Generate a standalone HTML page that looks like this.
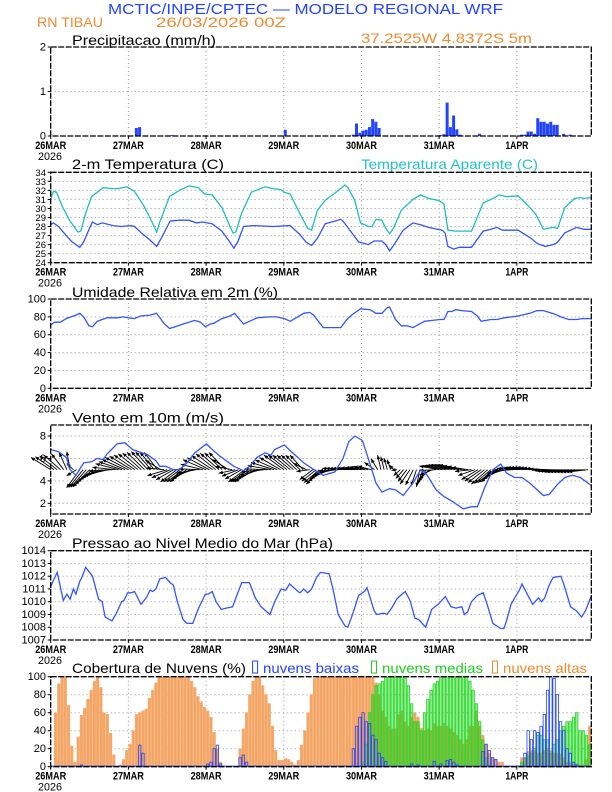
<!DOCTYPE html>
<html><head><meta charset="utf-8"><style>
html,body{margin:0;padding:0;background:#fff;}
svg{display:block;font-family:"Liberation Sans",sans-serif;}
</style></head><body>
<svg id="chart" width="612" height="792" viewBox="0 0 612 792" xmlns="http://www.w3.org/2000/svg">
<text x="108" y="14" font-size="15" fill="#2244ff" textLength="395" lengthAdjust="spacingAndGlyphs">MCTIC/INPE/CPTEC — MODELO REGIONAL WRF</text>
<text x="37" y="27" font-size="14" fill="#f08a30" textLength="66" lengthAdjust="spacingAndGlyphs">RN TIBAU</text>
<text x="156" y="27" font-size="14" fill="#f08a30" textLength="130" lengthAdjust="spacingAndGlyphs">26/03/2026 00Z</text>
<text x="361" y="43" font-size="14" fill="#f08a30" textLength="171" lengthAdjust="spacingAndGlyphs">37.2525W 4.8372S 5m</text>
<g id="layer"></g>
</svg>
<script>
// ---------- data ----------
const dayLabels = ["26MAR","27MAR","28MAR","29MAR","30MAR","31MAR","1APR"];
const precipHours = [26,27,37,72,93,94,95,96,97,98,99,100,101,120,121,122,123,124,125,126,132,145,146,147,148,149,150,151,152,153,154,155,156,158,160];
const precipVals  = [0.18,0.2,0.02,0.14,0.03,0.28,0.07,0.12,0.14,0.2,0.38,0.32,0.18,0.02,0.04,0.75,0.2,0.46,0.15,0.03,0.05,0.03,0.03,0.1,0.1,0.05,0.4,0.32,0.32,0.28,0.32,0.25,0.25,0.05,0.03];
const precipTicks = [0,1,2];

const tHours = [0,0.8,2.4,4.8,6.6,9,10.2,12,12.9,14.4,15.9,19.3,21.7,24.8,25.9,28.3,30.7,32.7,34.3,36.9,39.7,42.7,45.1,47,49.9,52.9,55.1,56.6,57.8,59.6,62.6,68.6,74,77,78.8,80.6,82.4,84.8,87.8,89.6,90.3,92.6,95.1,98.1,99.9,102.3,103.5,104.7,105.9,108.9,111.9,114.3,116.7,120.9,121.8,122.7,124.5,126.3,130,133.6,136,137.8,139.6,144.4,148,150.4,152.8,155.2,156.4,158.8,162.4,164.8,166.9];
const tVals  = [28.2,28.4,28.0,27.0,26.3,25.7,26.3,27.8,28.5,28.2,28.4,28.1,28.0,28.1,28.0,27.2,26.5,25.8,26.8,28.6,28.7,28.7,28.4,28.5,28.3,27.5,26.4,25.6,26.3,28.0,28.1,28.0,28.1,27.1,26.3,25.9,26.7,28.3,28.6,28.8,28.6,27.5,26.3,26.0,26.4,26.4,26.0,25.3,25.9,27.6,28.4,28.2,27.9,27.6,27.3,25.8,25.5,25.7,25.7,27.5,27.7,27.9,27.6,27.6,26.8,26.1,25.8,26.0,26.2,27.3,27.9,27.7,27.7];
const taHours = [0,0.8,1.8,3.6,6,8.4,9.3,10.8,12.6,14.4,16.2,19.3,21,23.5,25.9,28.9,31.3,32.7,33.7,36.7,39.7,42.7,45.7,47.5,49.9,52.9,55.4,56.3,57.2,59,62,66.2,68.6,71,72.2,74,77,79.4,80.6,82.4,84.8,87.8,90.9,91.8,93.9,95.7,98.1,99.3,100.5,102.3,103.5,104.7,105.9,108.3,111.9,114.3,116.7,119.7,121.5,122.7,125.2,130,133.6,137.2,138.4,140.8,144.4,148,149.8,152.2,155.2,156.6,158.8,161.8,163.6,164.8,166.9];
const taVals  = [31.0,31.9,31.8,30.2,28.6,27.4,27.5,29.5,31.3,31.8,32.3,32.2,32.2,32.4,31.9,30.2,28.5,27.4,28.5,31.3,32.0,32.5,32.3,31.6,31.5,30.1,28.0,27.3,27.4,29.5,31.8,32.4,32.2,32.1,31.8,31.6,29.4,27.8,27.6,29.8,30.9,31.7,32.6,32.3,30.9,28.4,28.0,28.0,28.8,28.7,27.8,27.2,27.8,29.8,31.0,31.5,31.1,30.9,30.5,27.6,27.5,27.5,30.6,31.2,31.5,31.3,31.4,30.1,29.4,27.7,27.9,27.8,30.1,31.1,31.2,31.1,31.2];
const tempTicks = [24,25,26,27,28,29,30,31,32,33,34];

const rhHours = [0,1.2,3,4.8,7.8,9,10.2,11.8,12.9,14.4,15.9,17.4,20.5,22.3,24.1,25.9,27.7,30.7,32.7,34.9,36.7,38.5,40.9,44.5,46.3,47.8,49.3,50.5,52.9,55.4,56.8,58.4,59.6,61.4,63.8,67.4,69.8,72.2,74,75.8,78.2,80,81.2,84.2,86.6,89.6,91.5,93.3,95.7,98.7,100.5,102.3,103.9,104.7,106.5,108.3,110.1,111.9,115.5,117.9,120.3,121.5,122.7,123.9,125.2,127,130,131.8,133,136,137.8,140.2,144.4,148,150.2,152.2,154,155.8,157.6,160,162.4,164.2,166.9];
const rhVals  = [71,74,74,78,82,84,80,70,69,75,77,79,79,80,79,78,81,82,84,73,67,69,72,76,74,69,72,73,78,81,84,77,72,75,79,80,80,78,75,79,84,85,82,68,68,68,77,83,89,88,84,84,90,91,77,70,70,68,75,76,77,77,86,86,88,87,86,81,75,77,77,79,81,84,87,87,85,83,80,77,77,78,78];
const rhTicks = [0,20,40,60,80,100];

const wsHours = [0,2.4,4.8,6,7.8,10.2,12.6,14.4,16.2,17.4,20.5,22.9,25.3,30.1,32.5,33.7,35.5,37.9,39.7,42.1,44.5,48.1,49.9,52.3,54.2,56.6,59.6,61.4,63.8,66.2,68,69.2,72.2,74,78.2,81.8,84.2,87.8,90.3,92.1,93.9,96.3,98.1,100.5,102.3,104.7,106.5,108.9,111.9,114.3,116.1,119.1,121.5,123.9,127.5,130,131.8,134.2,136.6,139,140.8,143.3,145.6,148,152.2,154,156.6,158.8,161.2,163.6,166.9];
const wsVals  = [6.8,6.6,6.1,5.0,4.5,5.6,5.7,6.0,5.9,6.4,7.3,7.4,6.8,6.3,5.8,5.3,5.3,5.0,5.0,5.6,6.5,7.3,6.8,6.2,5.8,5.3,4.9,5.3,6.1,6.5,6.3,6.8,7.2,6.7,5.6,4.9,4.5,4.8,6.0,7.5,8.0,7.6,6.0,3.8,3.0,3.3,3.2,2.7,3.8,5.0,4.6,3.2,2.6,2.2,1.5,1.7,1.7,3.5,5.0,5.5,4.7,4.3,4.3,3.8,2.7,2.8,3.7,4.3,4.5,4.3,3.6];
const windTicks = [2,4,6,8];
// wind components every 3 h (m/s)
const windU = [-6,-5,-1,-4,-5,-6,-7,-7,-7,-6,-5,-4,-6,-5,-5,-6,-7,-6,-5,-5,-5,-6,-7,-7,-6,-5,-4,-4,-5,-6,-6,-6,
 -5,-4,-1,-1,-2,-3,-1,-3,-6,-6,-6,-5,-5,-5,-5,-6,-6,-6,-6,-6,-6,-6,-6,-6];
const windV = [3.7,4.4,5.5,-5.5,-5.2,-3,-1.5,1.8,3.7,4.8,5.5,5.2,-1.8,-3.7,-3.7,-1.1,3,4.8,5.2,-1.1,-3.7,-3.7,-0.7,2.2,4.4,4.4,4.4,-3,-4.4,-1.8,0.4,0.4,
 0.7,1.1,4.4,3,-1.8,-4.4,-5.2,-3,1.1,1.5,1.5,0.7,-3,-4.4,-3.7,-1.1,0.4,0.7,0.7,0.4,-0.4,-0.7,-0.7,-0.7];

const pHours = [0,2,3.9,5,6,7,7.8,9,9.6,10.8,12.9,14.8,15.9,16.8,18.9,20.1,21.9,22.6,23.8,24.9,25.9,27.9,29.5,30.7,31.5,32.5,33.7,35.5,36.9,37.9,39.1,40.9,42.1,43.9,45.7,47.8,48.7,49.9,51.1,52.7,54.2,56.2,57.2,59,61.4,63.2,65,67.7,69.2,71.2,72.6,73.8,76.4,77,78.2,79.4,80.6,82.1,83.3,86,87.2,88.8,90.9,91.8,93.5,95.1,96.9,97.7,98.7,99.9,100.7,102.9,103.9,105.3,106.9,108.1,109.5,111,112.5,113.7,115.8,117.7,119.7,121.9,123.7,125.2,127,127.8,128.8,130,131.8,133.6,134.8,136.6,139,140,140.8,142.2,143.8,144.8,145.6,147.4,148.9,150.7,151.6,152.6,154,155.2,157.6,158.6,160.6,162.4,164,165.2,166.9];
const pVals  = [1011.2,1012.3,1010.1,1010.6,1010.2,1011.0,1010.6,1011.6,1011.9,1012.7,1012.0,1010.2,1010.0,1008.8,1008.5,1009.0,1010.0,1010.1,1010.7,1010.7,1010.8,1009.8,1010.3,1010.9,1010.8,1011.0,1011.8,1011.9,1011.5,1011.3,1010.0,1008.6,1008.3,1008.3,1009.5,1010.6,1010.6,1010.8,1010.0,1009.4,1009.5,1009.6,1010.3,1011.5,1011.5,1010.3,1009.6,1009.0,1010.0,1011.0,1010.9,1011.4,1010.8,1010.7,1011.0,1010.7,1011.0,1011.9,1012.3,1012.2,1011.0,1009.0,1008.1,1008.0,1009.2,1010.5,1010.8,1011.1,1010.3,1009.3,1009.0,1009.1,1009.0,1009.5,1010.2,1010.5,1010.8,1010.1,1008.7,1008.6,1008.0,1009.4,1009.8,1010.4,1009.6,1009.5,1009.6,1009.0,1009.2,1010.0,1010.5,1010.7,1009.8,1008.3,1007.9,1007.9,1008.5,1009.8,1010.5,1010.9,1011.4,1010.5,1009.8,1010.3,1010.0,1010.3,1011.3,1011.9,1012.0,1011.3,1009.6,1009.3,1008.8,1009.3,1010.4];
const pTicks = [1007,1008,1009,1010,1011,1012,1013,1014];

// hourly cloud cover (%), hours 0..166
const cloudHigh = [0,60,92,100,100,68,23,5,33,57,65,75,85,95,100,88,60,58,37,13,0,2,8,18,
 25,40,58,60,62,64,76,85,93,100,100,100,100,100,100,100,100,100,100,95,88,78,72,66,
 62,55,38,20,5,0,0,0,0,0,20,42,60,80,95,100,100,90,80,70,45,18,7,7,
 9,8,5,2,7,24,40,60,80,98,100,100,100,100,100,100,100,100,100,100,100,100,100,100,100,100,100,100,
 93,80,62,55,45,42,42,58,62,50,45,55,60,55,43,40,42,40,48,45,
 45,48,45,42,38,35,30,25,30,45,45,62,45,35,25,15,10,8,5,5,0,0,0,0,
 0,10,10,17,18,18,15,15,18,20,18,15,15,14,10,5,5,3,3,2,2,8,45];
const cloudMid = [0,0,0,0,0,0,0,0,0,0,0,0,0,0,0,0,0,0,0,0,0,0,0,0,
 0,0,0,0,0,0,0,0,0,0,0,0,0,0,0,0,0,0,0,0,0,0,0,0,
 0,0,0,0,0,0,0,0,0,0,0,0,0,0,0,0,0,0,0,0,0,0,0,0,
 0,0,0,0,0,0,0,0,0,0,0,0,0,0,0,0,0,0,0,0,0,0,0,0,
 5,25,60,80,90,92,95,100,100,100,100,100,100,100,90,70,50,50,40,60,75,85,92,95,
 100,100,100,100,100,100,100,100,100,95,85,70,50,30,10,2,0,0,0,0,0,0,0,0,
 0,5,10,12,15,20,35,35,30,30,15,25,30,40,45,50,50,55,60,40,40,35,25];
const cloudLow = [0,0,0,0,0,0,0,0,0,2,0,0,0,0,0,0,0,0,0,0,0,0,0,0,
 0,0,0,24,15,0,0,0,0,0,0,0,0,0,0,0,0,0,0,0,0,0,0,0,
 3,5,20,24,3,0,0,0,0,0,10,13,5,0,0,0,0,0,0,0,0,0,0,0,
 0,0,0,0,0,0,0,0,0,0,0,0,0,0,0,0,0,0,0,0,0,20,45,55,
 60,50,48,35,30,15,10,6,0,0,0,0,0,0,0,3,0,2,0,0,0,0,6,0,
 3,0,7,8,5,2,0,0,0,0,0,0,0,17,25,18,10,8,0,0,0,0,0,0,
 0,0,15,40,30,40,38,45,58,85,100,98,80,50,40,20,15,5,2,0,0,0,0];
const cloudTicks = [0,20,40,60,80,100];

// ---------- drawing ----------
const NS = "http://www.w3.org/2000/svg";
const layer = document.getElementById("layer");
const X0 = 50.7, X1 = 591.3, HMAX = 167;
function xs(h){ return X0 + h * (X1 - X0) / HMAX; }
function mk(tag, attrs, parent){
  const e = document.createElementNS(NS, tag);
  for (const k in attrs) e.setAttribute(k, attrs[k]);
  (parent || layer).appendChild(e);
  return e;
}
function panel(name, top, bot, vmin, vmax, ticks, tickFmt, tickSize){
  const g = mk("g", {});
  
  
  const ys = v => bot - (v - vmin) * (bot - top) / (vmax - vmin);
  for (let d = 1; d < 7; d++) {
    const l = mk("line", {x1: xs(d*24), x2: xs(d*24), y1: top, y2: bot, stroke: "#999", "stroke-width": 1, "stroke-dasharray": "1,3"}, g);
    
    
  }
  ticks.forEach(t => {
    const y = ys(t);
    if (t !== vmin && t !== vmax) {
      const l = mk("line", {x1: X0, x2: X1, y1: y, y2: y, stroke: "#999", "stroke-width": 1, "stroke-dasharray": "1,3"}, g);
      
      
    }
    const tl = mk("text", {x: 46, y: y + 3.5, "font-size": tickSize || 11, "text-anchor": "end", fill: "#000"}, g);
    tl.textContent = tickFmt ? tickFmt(t) : t;
    
    
    mk("line", {x1: X0 - 3, x2: X0, y1: y, y2: y, stroke: "#000"}, g);
  });
  dayLabels.forEach((lab, i) => {
    const x = xs(i*24);
    mk("line", {x1: x, x2: x, y1: bot, y2: bot + 3, stroke: "#000"}, g);
    const t = mk("text", {x: x, y: bot + 13, "font-size": 11, "font-weight": "bold", "text-anchor": "middle", textLength: lab.length === 4 ? 23 : 31, lengthAdjust: "spacingAndGlyphs"}, g);
    t.textContent = lab;
    
    
  });
  const yr = mk("text", {x: 50, y: bot + 24, "font-size": 11, "text-anchor": "middle", textLength: 24, lengthAdjust: "spacingAndGlyphs"}, g);
  yr.textContent = "2026";
  
  
  return {g, ys, top, bot};
}
function frame(p){
  const r = mk("rect", {x: X0, y: p.top, width: X1 - X0, height: p.bot - p.top, fill: "none", stroke: "#000", "stroke-width": 1.3, "stroke-dasharray": "6,1.5"}, p.g);
  
  
}
function title(txt, x, y, w, color, name){
  const t = mk("text", {x: x, y: y, "font-size": 14, fill: color, textLength: w, lengthAdjust: "spacingAndGlyphs"});
  t.textContent = txt;
  
  
}
function line(p, hours, vals, color, name){
  const d = hours.map((h, i) => (i ? "L" : "M") + xs(h).toFixed(1) + "," + p.ys(vals[i]).toFixed(1)).join("");
  const e = mk("path", {d: d, fill: "none", stroke: color, "stroke-width": 1.3}, p.g);
  
  
}

// Panel 1: precipitation
title("Precipitacao (mm/h)", 72, 45, 144, "#000", "precip-title");
const p1 = panel("precip-panel", 47, 136, 0, 2, precipTicks);
precipHours.forEach((h, i) => {
  const y = p1.ys(precipVals[i]);
  const b = mk("rect", {x: xs(h), y: y, width: 3, height: p1.bot - y, fill: "#2244ff"}, p1.g);
  
  
});
frame(p1);

// Panel 2: temperature
title("2-m Temperatura (C)", 72, 169, 152, "#000", "temp-title");
title("Temperatura Aparente (C)", 361, 169, 177, "#22c4c4", "apparent-temp-title");
const p2 = panel("temp-panel", 172.3, 262.7, 24, 34, tempTicks, null, 9.5);
line(p2, taHours, taVals, "#22bdbd", "apparent-temp-line");
line(p2, tHours, tVals, "#3355ff", "temp-line");
frame(p2);

// Panel 3: RH
title("Umidade Relativa em 2m (%)", 72, 297, 206, "#000", "rh-title");
const p3 = panel("rh-panel", 299, 388.3, 0, 100, rhTicks);
line(p3, rhHours, rhVals, "#3355ff", "rh-line");
frame(p3);

// Panel 4: wind
title("Vento em 10m (m/s)", 72, 422.7, 152, "#000", "wind-title");
const p4 = panel("wind-panel", 425, 514, 1.05, 8.98, windTicks);
const wy0 = p4.ys(5);
const K = 3.3;
for (let h = 0; h <= 166; h++) {
  const i = Math.min(Math.floor(h / 3), windU.length - 2);
  const f = (h - i * 3) / 3;
  const u = windU[i] + (windU[i+1] - windU[i]) * f;
  const v = windV[i] + (windV[i+1] - windV[i]) * f;
  const x = xs(h), x2 = x + u * K, y2 = wy0 - v * K;
  const len = Math.hypot(x2 - x, y2 - wy0) || 1;
  const ux = (x2 - x) / len, uy = (y2 - wy0) / len;
  const a = mk("g", {}, p4.g);
  
  
  mk("line", {x1: x, y1: wy0, x2: x2, y2: y2, stroke: "#000", "stroke-width": 0.9}, a);
  const hx = x2 - ux * 4, hy = y2 - uy * 4;
  mk("polygon", {points: `${x2},${y2} ${hx - uy*1.8},${hy + ux*1.8} ${hx + uy*1.8},${hy - ux*1.8}`, fill: "#000"}, a);
}
line(p4, wsHours, wsVals, "#3355ff", "wind-speed-line");
frame(p4);

// Panel 5: pressure
title("Pressao ao Nivel Medio do Mar (hPa)", 72, 548, 261, "#000", "pressure-title");
const p5 = panel("pressure-panel", 550.7, 640, 1007, 1014, pTicks);
line(p5, pHours, pVals, "#3355ff", "pressure-line");
frame(p5);

// Panel 6: clouds
title("Cobertura de Nuvens (%)", 72, 673, 174, "#000", "cloud-title");
const lg = [["#2244ff", 252.6, 263, 96, "nuvens baixas", "legend-low-clouds"],
            ["#22cc22", 371.5, 382, 101, "nuvens medias", "legend-mid-clouds"],
            ["#f08a30", 492.5, 503, 84, "nuvens altas", "legend-high-clouds"]];
lg.forEach(l => {
  const g = mk("g", {});
  
  
  mk("rect", {x: l[1], y: 661, width: 5, height: 12, fill: "none", stroke: l[0], "stroke-width": 1}, g);
  const t = mk("text", {x: l[2], y: 673, "font-size": 14, fill: l[0], textLength: l[3], lengthAdjust: "spacingAndGlyphs"}, g);
  t.textContent = l[4];
});
const p6 = panel("cloud-panel", 676.7, 766.7, 0, 100, cloudTicks);
const bw = (X1 - X0) / HMAX;
function bars(vals, fill, stroke, name){
  vals.forEach((v, h) => {
    if (v <= 0) return;
    const y = p6.ys(v);
    const b = mk("rect", {x: xs(h) + 0.4, y: y, width: bw - 0.8, height: p6.bot - y, fill: fill, stroke: stroke, "stroke-width": 0.8}, p6.g);
    
    
  });
}
bars(cloudHigh, "#f5a35e", "#f3b07a", "high-cloud-bar");
bars(cloudMid, "rgba(40,200,40,0.45)", "#22dd22", "mid-cloud-bar");
bars(cloudLow, "none", "#2244ff", "low-cloud-bar");
mk("line", {x1: X0, x2: X1, y1: p6.bot - 0.5, y2: p6.bot - 0.5, stroke: "#2244ff", "stroke-width": 1.2}, p6.g);
frame(p6);
</script>
</body></html>
